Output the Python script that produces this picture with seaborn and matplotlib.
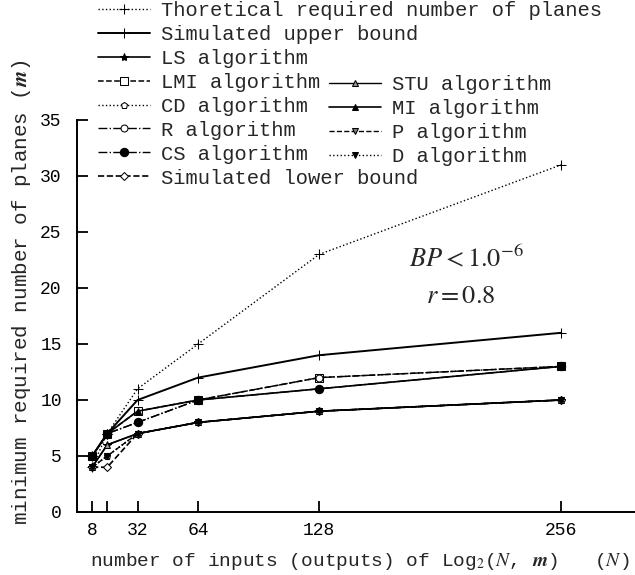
import numpy as np
import seaborn as sns
import matplotlib.pyplot as plt
from matplotlib.legend import Legend

sns.set_style("ticks")
plt.rcParams['font.family'] = ['Liberation Mono', 'DejaVu Sans']
plt.rcParams['mathtext.fontset'] = 'stix'

# data
inputs = [8, 16, 32, 64, 128, 256]
theoretical = [4, 7, 11, 15, 23, 31]
upper_bound = [5, 7, 10, 12, 14, 16]
ls_alg = [4, 6, 7, 8, 9, 10]
lmi_alg = [5, 7, 9, 10, 12, 13]
cd_alg = [4, 5, 7, 8, 9, 10]
r_alg = [5, 7, 8, 10, 12, 13]
cs_alg = [5, 7, 8, 10, 11, 13]
lower_bound = [4, 4, 7, 8, 9, 10]
stu_alg = [4, 6, 7, 8, 9, 10]
mi_alg = [5, 7, 9, 10, 11, 13]
p_alg = [4, 5, 7, 8, 9, 10]
d_alg = [4, 5, 7, 8, 9, 10]

xticks = [8, 16, 32, 64, 128, 256]
xticklabels = ['8', '', '32', '64', '128', '256']
yticks = [0, 5, 10, 15, 20, 25, 30, 35]

col1 = [
    ("Thoretical required number of planes", theoretical, dict(ls=':', marker='+', ms=7, lw=1.0)),
    ("Simulated upper bound", upper_bound, dict(ls='-', marker='+', ms=7, lw=1.4)),
    ("LS algorithm", ls_alg, dict(ls='-', marker='*', ms=6, lw=1.2)),
    ("LMI algorithm", lmi_alg, dict(ls='--', marker='s', ms=6, lw=1.1, mfc='white')),
    ("CD algorithm", cd_alg, dict(ls=':', marker='p', ms=5, lw=1.0, mfc='white')),
    ("R algorithm", r_alg, dict(ls='-.', marker='o', ms=5, lw=1.0, mfc='white')),
    ("CS algorithm", cs_alg, dict(ls='-.', marker='o', ms=6, lw=1.0)),
    ("Simulated lower bound", lower_bound, dict(ls='--', marker='D', ms=4, lw=1.2, mfc='white')),
]
col2 = [
    ("STU algorithm", stu_alg, dict(ls='-', marker='^', ms=5, lw=1.0, mfc='0.6')),
    ("MI algorithm", mi_alg, dict(ls='-', marker='^', ms=5, lw=1.2)),
    ("P algorithm", p_alg, dict(ls='--', marker='v', ms=5, lw=1.0, mfc='0.5')),
    ("D algorithm", d_alg, dict(ls=':', marker='v', ms=5, lw=1.0)),
]

fig = plt.figure(figsize=(6.35, 5.75), dpi=100)
ax = fig.add_axes([77 / 635, 1 - 512 / 575, 558 / 635, 392 / 575])

handles1, handles2 = [], []
for name, vals, st in col1:
    sns.lineplot(x=inputs, y=vals, ax=ax, color='black', mec='black', **st)
    handles1.append(ax.lines[-1])
for name, vals, st in col2:
    sns.lineplot(x=inputs, y=vals, ax=ax, color='black', mec='black', **st)
    handles2.append(ax.lines[-1])

ax.set_xlim(0, 295)
ax.set_ylim(0, 35)
ax.set_xticks(xticks)
ax.set_xticklabels(xticklabels)
ax.set_yticks(yticks)
ax.tick_params(direction='in', length=8, width=1.3, labelsize=13, colors='black')
ax.tick_params(axis='y', pad=11)
ax.tick_params(axis='x', pad=7)
for s in ['top', 'right']:
    ax.spines[s].set_visible(False)
for s in ['left', 'bottom']:
    ax.spines[s].set_linewidth(1.4)
    ax.spines[s].set_color('black')

ax.set_xlabel(r"number of inputs (outputs) of Log$_2$($N$, $\boldsymbol{m}$)   ($N$)",
              fontsize=14, va='center')
ax.xaxis.set_label_coords((360 - 77) / 558, (512 - 561) / 392)
ax.set_ylabel(r"minimum required number of planes ($\boldsymbol{m}$)", fontsize=15, va='center')
ax.yaxis.set_label_coords((22 - 77) / 558, (512 - 292) / 392)

ax.text(206, 22.7, r"$BP < 1.0^{-6}$", fontsize=19, ha='center', va='center')
ax.text(203, 19.3, r"$r = 0.8$", fontsize=19, ha='center', va='center')

leg_kw = dict(frameon=False, fontsize=14.8, handlelength=2.55, handletextpad=0.5,
              labelspacing=0.24, borderpad=0, borderaxespad=0, loc='upper left')
leg1 = Legend(fig, handles1, [c[0] for c in col1],
              bbox_to_anchor=(98 / 635, 1 - 1 / 575), bbox_transform=fig.transFigure, **leg_kw)
leg2 = Legend(fig, handles2, [c[0] for c in col2],
              bbox_to_anchor=(329 / 635, 1 - 75 / 575), bbox_transform=fig.transFigure, **leg_kw)
fig.add_artist(leg1)
fig.add_artist(leg2)

fig.savefig("out.png", dpi=100)
